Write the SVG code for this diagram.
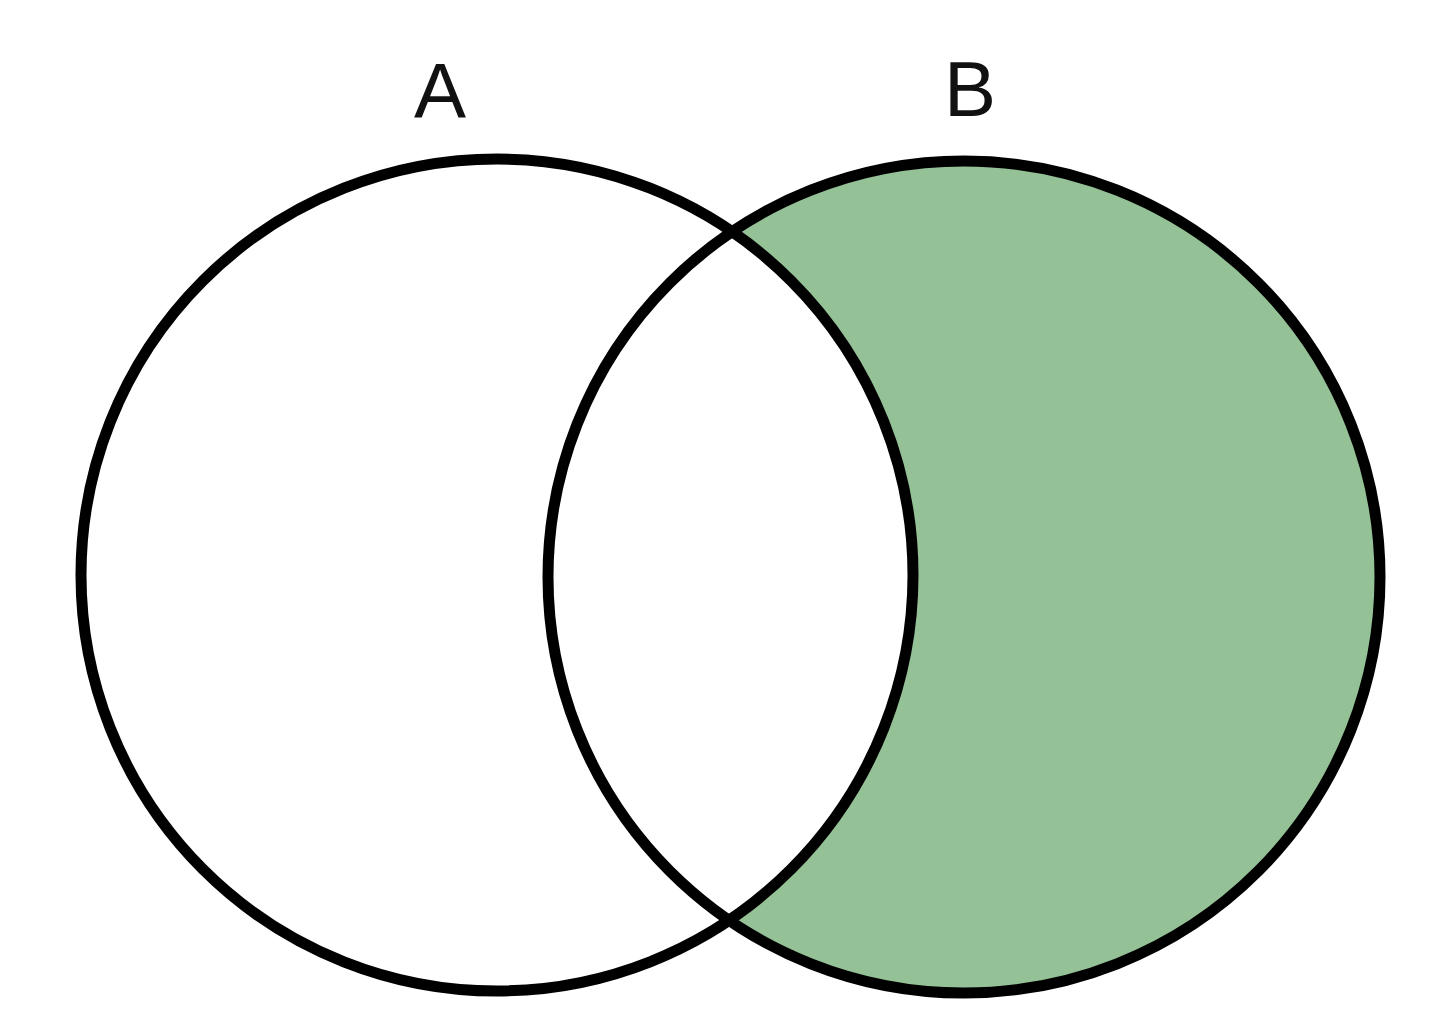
<svg xmlns="http://www.w3.org/2000/svg" width="1440" height="1028" viewBox="0 0 1440 1028">
<style>
.ring{fill:none;stroke:#000;stroke-width:11}
.lbl{font-family:"Liberation Sans",Arial,sans-serif;font-size:78px;fill:#111;text-anchor:middle}
</style>
<rect width="1440" height="1028" fill="#fff"/>
<g id="region-B-only">
<circle cx="964" cy="577" r="416" fill="#95c196"/>
<circle cx="497" cy="575" r="416" fill="#fff"/>
</g>
<g id="set-A">
<circle class="ring" cx="497" cy="575" r="416"/>
<text class="lbl" x="440" y="118">A</text>
</g>
<g id="set-B">
<circle class="ring" cx="964" cy="577" r="416"/>
<text class="lbl" x="970" y="116">B</text>
</g>
</svg>
